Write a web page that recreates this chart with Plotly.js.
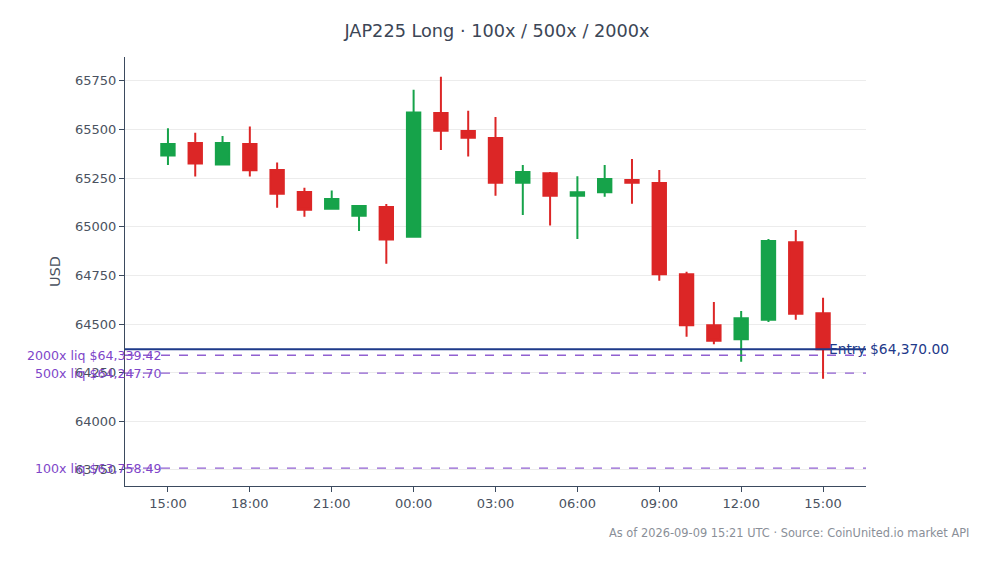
<!DOCTYPE html>
<html>
<head>
<meta charset="utf-8">
<script src="https://cdn.plot.ly/plotly-3.0.1.min.js"></script>
<style>
  html, body { margin: 0; padding: 0; background: #ffffff; }
  #chart { width: 994px; height: 564px; }
</style>
</head>
<body>
<div id="chart"></div>
<script>
// Hourly candles, 2026-09-08 15:00 .. 2026-09-09 15:00 UTC
var times = [
    '2026-09-08 15:00', '2026-09-08 16:00', '2026-09-08 17:00', '2026-09-08 18:00',
    '2026-09-08 19:00', '2026-09-08 20:00', '2026-09-08 21:00', '2026-09-08 22:00',
    '2026-09-08 23:00', '2026-09-09 00:00', '2026-09-09 01:00', '2026-09-09 02:00',
    '2026-09-09 03:00', '2026-09-09 04:00', '2026-09-09 05:00', '2026-09-09 06:00',
    '2026-09-09 07:00', '2026-09-09 08:00', '2026-09-09 09:00', '2026-09-09 10:00',
    '2026-09-09 11:00', '2026-09-09 12:00', '2026-09-09 13:00', '2026-09-09 14:00',
    '2026-09-09 15:00'
];
var opens  = [65366, 65431, 65320, 65426, 65292, 65179, 65093, 65057, 65102, 64949, 65585, 65493, 65457,
              65227, 65275, 65160, 65177, 65241, 65225, 64756, 64493, 64421, 64522, 64920, 64555];
var highs  = [65507, 65484, 65467, 65515, 65330, 65201, 65186, 65110, 65117, 65704, 65772, 65596, 65565,
              65318, 65282, 65260, 65318, 65349, 65292, 64769, 64613, 64567, 64937, 64983, 64635];
var lows   = [65318, 65258, 65318, 65258, 65098, 65052, 65090, 64978, 64810, 64945, 65395, 65361, 65160,
              65061, 65006, 64937, 65155, 65119, 64723, 64435, 64396, 64306, 64510, 64522, 64219];
var closes = [65426, 65325, 65431, 65291, 65170, 65088, 65143, 65107, 64934, 65587, 65494, 65458, 65227,
              65282, 65160, 65177, 65246, 65227, 64756, 64493, 64414, 64529, 64927, 64553, 64370];

var entryPrice = 64370.00;
var liqLevels = [
    { label: '2000x', price: 64339.42 },
    { label: '500x', price: 64247.70 },
    { label: '100x', price: 63758.49 }
];

var titleText = 'JAP225 Long \u00b7 100x / 500x / 2000x';
var footText = 'As of 2026-09-09 15:21 UTC \u00b7 Source: CoinUnited.io market API';

var UP = '#16a34a';
var DOWN = '#dc2626';
var ENTRY = '#1e3a8a';
var LIQ = '#7e45c9';
var FONT = 'DejaVu Sans, sans-serif';

function money(v)
{
    return '$' + v.toLocaleString('en-US', { minimumFractionDigits: 2, maximumFractionDigits: 2 });
}

function buildShapes()
{
    var shapes = [{
        type: 'line', xref: 'paper', x0: 0, x1: 1,
        yref: 'y', y0: entryPrice, y1: entryPrice,
        line: { color: ENTRY, width: 2 }
    }];
    liqLevels.forEach(function(l) {
        shapes.push({
            type: 'line', xref: 'paper', x0: 0, x1: 1,
            yref: 'y', y0: l.price, y1: l.price,
            line: { color: LIQ, width: 1.3, dash: 'dash' },
            opacity: 0.85
        });
    });
    return shapes;
}

function buildAnnotations()
{
    var notes = [{
        x: times[times.length - 1], y: entryPrice, xref: 'x', yref: 'y',
        text: 'Entry ' + money(entryPrice), showarrow: false,
        xanchor: 'left', yanchor: 'middle', xshift: 4,
        font: { family: FONT, size: 13.8, color: ENTRY }
    }];
    liqLevels.forEach(function(l) {
        notes.push({
            x: times[0], y: l.price, xref: 'x', yref: 'y',
            text: l.label + ' liq ' + money(l.price), showarrow: false,
            xanchor: 'right', yanchor: 'middle', xshift: -4,
            font: { family: FONT, size: 12.6, color: LIQ }
        });
    });
    notes.push({
        x: 1.142, y: -0.11, xref: 'paper', yref: 'paper',
        text: footText, showarrow: false,
        xanchor: 'right', yanchor: 'middle',
        font: { family: FONT, size: 11.4, color: '#8a8f98' }
    });
    return notes;
}

var trace = {
    type: 'candlestick',
    x: times,
    open: opens,
    high: highs,
    low: lows,
    close: closes,
    increasing: { line: { color: UP, width: 2 }, fillcolor: UP },
    decreasing: { line: { color: DOWN, width: 2 }, fillcolor: DOWN },
    showlegend: false,
    hoverinfo: 'skip'
};

var layout = {
    width: 994,
    height: 564,
    margin: { l: 125, r: 128, t: 57, b: 78 },
    paper_bgcolor: '#ffffff',
    plot_bgcolor: '#ffffff',
    font: { family: FONT, size: 13, color: '#4a5260' },
    title: {
        text: titleText, x: 0.5, xanchor: 'center', y: 0.945, yanchor: 'middle',
        font: { family: FONT, size: 17.7, color: '#3c4656' }
    },
    showlegend: false,
    xaxis: {
        type: 'date',
        range: ['2026-09-08 13:25:36', '2026-09-09 16:34:24'],
        rangeslider: { visible: false },
        tickformat: '%H:%M',
        dtick: 3 * 3600 * 1000,
        showgrid: false,
        showline: true, linecolor: '#3b4a5e', linewidth: 1,
        ticks: 'outside', ticklen: 5, tickcolor: '#3b4a5e',
        zeroline: false
    },
    yaxis: {
        range: [63667, 65873],
        dtick: 250,
        tickformat: 'd',
        showgrid: true, gridcolor: '#ececec',
        showline: true, linecolor: '#3b4a5e', linewidth: 1,
        ticks: 'outside', ticklen: 5, tickcolor: '#3b4a5e',
        zeroline: false,
        title: { text: 'USD', standoff: 10, font: { family: FONT, size: 14.5, color: '#4a5260' } }
    },
    shapes: buildShapes(),
    annotations: buildAnnotations()
};

Plotly.newPlot('chart', [trace], layout, { displayModeBar: false, staticPlot: true });
</script>
</body>
</html>
